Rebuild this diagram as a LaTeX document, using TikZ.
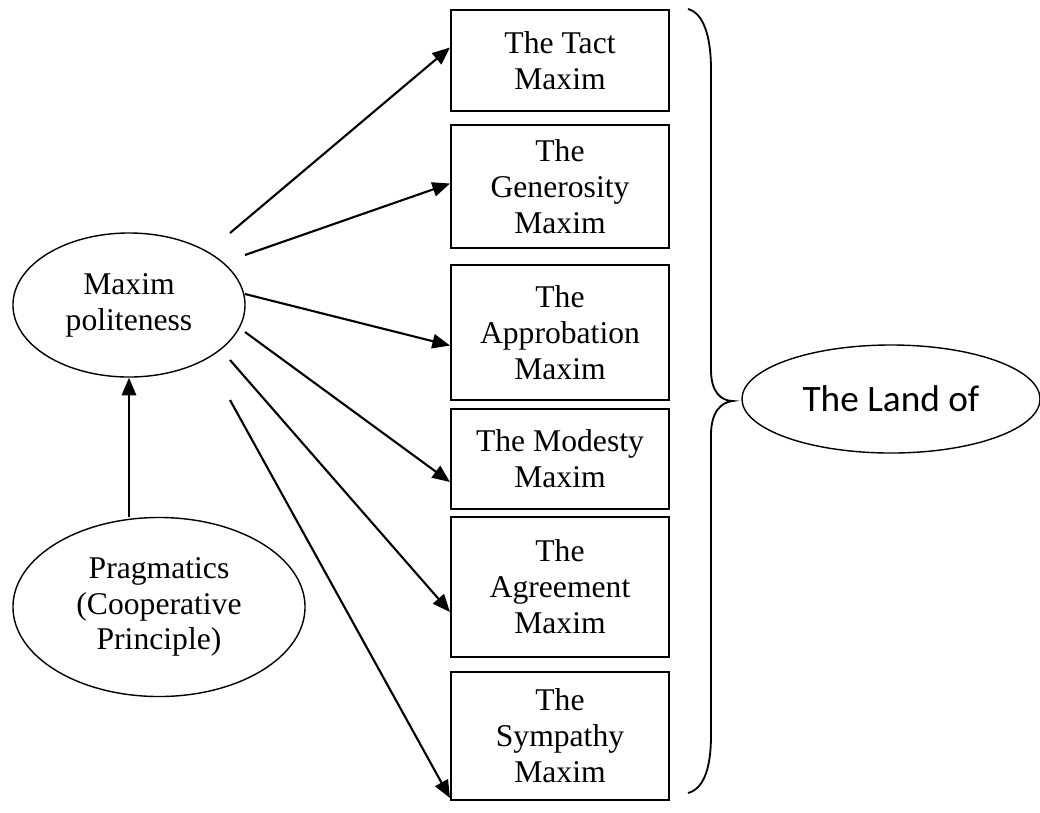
\documentclass[tikz,border=0pt]{standalone}
\usepackage{fontspec}
\setmainfont{Liberation Serif}
\newfontfamily\landfont{Carlito}
\usetikzlibrary{positioning,shapes.geometric,arrows.meta}
\newcommand{\maxfont}{\fontsize{22.5pt}{25.5pt}\selectfont}

\begin{document}
\begin{tikzpicture}[
  x=0.025cm, y=-0.025cm,
  font=\maxfont,
  box/.style={
    draw,
    line width=1.4pt,
    align=center,
    minimum width=5.45cm,
    inner sep=2pt
  },
  oval/.style={
    draw,
    ellipse,
    line width=1pt,
    align=center,
    inner sep=0pt
  },
  arrow/.style={-{Triangle[length=0.44cm,width=0.36cm]}, line width=1.5pt}
]
\useasboundingbox (0,0) rectangle (1040,812);

\node[box, minimum height=2.525cm] (tact) at (560,60.5) {The Tact\\Maxim};
\node[box, minimum height=3.075cm] (gen) [below=0.3cm of tact] {The\\Generosity\\Maxim};
\node[box, minimum height=3.375cm] (appr) [below=0.375cm of gen] {The\\Approbation\\Maxim};
\node[box, minimum height=2.5cm] (mod) [below=0.175cm of appr] {The Modesty\\Maxim};
\node[box, minimum height=3.5cm] (agr) [below=0.15cm of mod] {The\\Agreement\\Maxim};
\node[box, minimum height=3.2cm] (sym) [below=0.325cm of agr] {The\\Sympathy\\Maxim};

\node[oval, minimum width=5.8cm, minimum height=3.6cm] (polite) at (129,305) {Maxim\\politeness};
\node[oval, minimum width=7.3cm, minimum height=4.475cm] (prag) at (159,607) {Pragmatics\\(Cooperative\\Principle)};
\node[oval, minimum width=7.45cm, minimum height=2.7cm, font={\landfont\fontsize{26.5pt}{30pt}\selectfont}] (land) at (891,399) {The Land of};

\draw[arrow] (prag.north -| polite.south) -- (polite.south);

\draw[arrow] ([shift={(101,-72)}]polite.center) -- ([shift={(0,-13)}]tact.west);
\draw[arrow] ([shift={(116,-50)}]polite.center) -- ([shift={(0,-3)}]gen.west);
\draw[arrow] ([shift={(116,-11)}]polite.center) -- ([shift={(0,13)}]appr.west);
\draw[arrow] ([shift={(116,27)}]polite.center) -- ([shift={(0,23)}]mod.west);
\draw[arrow] ([shift={(101,55)}]polite.center) -- ([shift={(0,25)}]agr.west);
\draw[arrow] ([shift={(101,95)}]polite.center) -- ([shift={(0,-3)}]sym.south west);

\coordinate (bracetip) at (733,401);
\draw[line width=1.3pt] (688,9) .. controls (703,13) and (711,35) .. (711,70)
  -- (711,370) .. controls (711,392) and (721,401) .. (bracetip)
  .. controls (721,402) and (711,412) .. (711,435)
  -- (711,735) .. controls (711,770) and (703,789) .. (688,793);
\end{tikzpicture}
\end{document}
